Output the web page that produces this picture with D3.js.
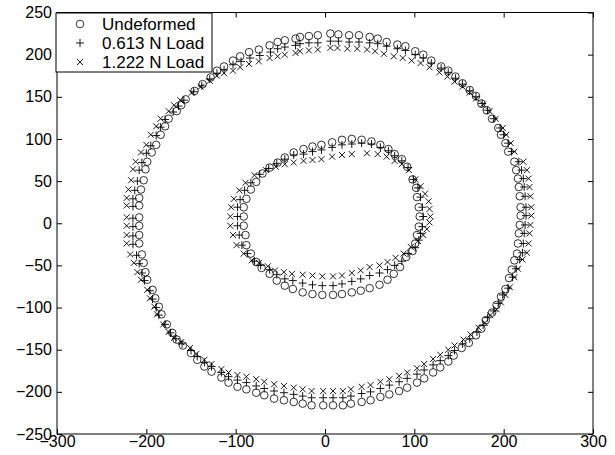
<!DOCTYPE html>
<html>
<head>
<meta charset="utf-8">
<script src="https://cdn.jsdelivr.net/npm/d3@7"></script>
<style>
  body { margin: 0; background: #fff; }
  .axis text { font-family: "Liberation Sans", Arial, Helvetica, sans-serif; font-size: 16px; fill: #000; }
  .axis line { stroke: #000; }
</style>
</head>
<body>
<div id="chart"></div>
<script>
// measured ring points, [x, y] in chart units
var undeformed = [
  [6,225],[-8,223],[-18,222],[-28,221],[-33,219],[-45,217],[-53,215],[-62,211],[-74,206],[-85,203],
  [-95,198],[-103,193],[-113,186],[-121,181],[-128,173],[-137,165],[-146,157],[-156,147],[-161,140],[-166,133],
  [-175,124],[-179,115],[-184,105],[-189,93],[-194,84],[-199,73],[-201,64],[-203,51],[-206,40],[-208,30],
  [-208,21],[-208,7],[-208,-3],[-208,-14],[-208,-24],[-205,-37],[-203,-47],[-201,-58],[-199,-67],[-193,-79],
  [-190,-89],[-186,-99],[-183,-108],[-177,-120],[-171,-130],[-166,-138],[-159,-145],[-150,-154],[-143,-162],[-135,-170],
  [-127,-176],[-116,-183],[-108,-189],[-98,-194],[-88,-197],[-77,-201],[-68,-204],[-57,-208],[-46,-210],[-35,-212],
  [-25,-214],[-15,-216],[-2,-216],[9,-216],[20,-216],[29,-214],[41,-212],[51,-210],[62,-206],[72,-203],
  [83,-199],[92,-195],[103,-189],[111,-184],[121,-177],[129,-171],[138,-164],[144,-157],[153,-148],[161,-142],
  [169,-133],[175,-125],[180,-115],[187,-106],[192,-97],[197,-87],[202,-78],[206,-65],[209,-55],[212,-44],
  [215,-36],[216,-24],[217,-12],[218,-2],[219,9],[219,19],[218,32],[217,43],[216,53],[214,63],
  [212,73],[205,85],[202,95],[197,105],[194,113],[187,124],[181,134],[175,142],[169,151],[162,158],
  [154,166],[146,174],[138,181],[130,186],[119,193],[110,200],[101,204],[90,210],[81,212],[69,215],
  [59,219],[50,221],[38,223],[27,223],[15,224],
  // inner ring
  [30,100],[19,99],[8,96],[-4,93],[-14,91],[-24,88],[-35,84],[-45,78],[-53,72],[-62,66],
  [-70,59],[-77,49],[-83,40],[-88,29],[-91,19],[-91,8],[-91,-3],[-89,-14],[-88,-26],[-83,-36],
  [-77,-46],[-71,-53],[-62,-60],[-54,-68],[-45,-74],[-36,-78],[-25,-82],[-14,-84],[-3,-85],[9,-85],
  [19,-84],[30,-82],[40,-80],[50,-77],[61,-73],[70,-67],[77,-60],[84,-52],[91,-40],[98,-33],
  [101,-24],[103,-14],[105,-4],[106,8],[105,19],[103,31],[102,42],[98,52],[92,67],[86,76],
  [78,82],[71,88],[62,93],[52,97],[41,99]
];

var load0613 = [
  [6,216],[-8,214],[-18,214],[-28,213],[-33,211],[-45,209],[-53,207],[-61,203],[-73,199],[-84,196],
  [-94,192],[-103,188],[-113,182],[-121,178],[-129,171],[-138,163],[-147,156],[-158,146],[-164,139],[-170,132],
  [-179,123],[-184,114],[-189,104],[-195,92],[-200,83],[-205,72],[-208,63],[-210,50],[-213,39],[-215,29],
  [-215,20],[-215,6],[-215,-4],[-215,-15],[-215,-25],[-211,-38],[-208,-48],[-205,-59],[-202,-68],[-196,-80],
  [-193,-90],[-189,-100],[-186,-109],[-179,-120],[-173,-130],[-167,-137],[-160,-143],[-150,-151],[-143,-158],[-135,-165],
  [-127,-170],[-116,-177],[-108,-182],[-98,-186],[-88,-189],[-77,-193],[-68,-196],[-57,-199],[-46,-201],[-35,-203],
  [-25,-205],[-15,-207],[-2,-207],[9,-207],[20,-207],[29,-205],[41,-202],[51,-200],[62,-196],[72,-192],
  [83,-188],[92,-184],[103,-179],[111,-174],[121,-168],[129,-163],[138,-157],[145,-151],[154,-143],[162,-137],
  [170,-129],[177,-121],[182,-112],[189,-104],[194,-95],[199,-85],[205,-77],[210,-64],[214,-54],[218,-43],
  [221,-35],[222,-24],[223,-12],[224,-2],[225,9],[225,19],[224,32],[223,43],[222,53],[220,63],
  [217,73],[209,85],[205,95],[200,105],[196,113],[189,124],[182,134],[176,142],[169,150],[162,157],
  [154,165],[146,172],[138,179],[130,184],[119,190],[110,196],[101,200],[90,205],[81,207],[69,210],
  [59,213],[50,214],[38,215],[27,215],[15,216],
  [30,94],[19,93],[8,90],[-4,87],[-14,85],[-24,82],[-35,81],[-45,76],[-54,71],[-63,65],
  [-73,58],[-83,48],[-90,39],[-95,28],[-98,19],[-98,8],[-98,-3],[-96,-14],[-93,-26],[-87,-36],
  [-79,-45],[-72,-50],[-62,-55],[-54,-61],[-45,-66],[-36,-68],[-25,-71],[-14,-73],[-3,-74],[9,-74],
  [19,-72],[30,-69],[40,-66],[50,-62],[61,-59],[70,-55],[78,-50],[86,-45],[93,-36],[101,-29],
  [105,-20],[107,-12],[109,-4],[110,8],[109,19],[107,31],[104,42],[99,52],[93,66],[86,74],
  [78,80],[71,86],[62,90],[52,94],[41,95]
];

var load1222 = [
  [6,208],[-8,206],[-18,205],[-28,204],[-33,202],[-45,200],[-53,198],[-62,196],[-74,192],[-85,189],
  [-95,185],[-103,181],[-113,178],[-121,175],[-129,169],[-139,162],[-149,155],[-162,146],[-169,140],[-175,133],
  [-184,124],[-189,115],[-195,105],[-200,93],[-206,84],[-212,73],[-215,64],[-217,51],[-220,40],[-222,30],
  [-222,21],[-222,7],[-222,-3],[-222,-14],[-222,-24],[-218,-37],[-214,-47],[-210,-58],[-206,-67],[-199,-79],
  [-196,-89],[-191,-99],[-188,-108],[-181,-120],[-175,-129],[-169,-136],[-161,-141],[-151,-148],[-144,-155],[-135,-162],
  [-127,-167],[-116,-173],[-108,-177],[-98,-180],[-88,-182],[-77,-185],[-68,-188],[-57,-191],[-46,-193],[-35,-195],
  [-25,-197],[-15,-199],[-2,-199],[9,-199],[20,-199],[29,-197],[41,-194],[51,-192],[62,-188],[72,-185],
  [83,-181],[92,-177],[103,-172],[111,-167],[121,-161],[129,-156],[138,-150],[145,-145],[155,-138],[163,-132],
  [172,-124],[179,-118],[185,-109],[192,-102],[197,-94],[202,-85],[207,-76],[212,-64],[216,-54],[221,-43],
  [226,-35],[228,-24],[229,-12],[230,-2],[231,9],[231,19],[230,32],[229,43],[228,53],[226,63],
  [222,73],[212,85],[208,95],[203,105],[199,113],[191,124],[184,133],[177,141],[169,148],[162,155],
  [154,162],[145,168],[137,174],[128,179],[117,185],[107,190],[97,193],[87,196],[77,198],[66,201],
  [56,204],[47,206],[36,207],[25,207],[14,208],
  [30,82],[19,81],[8,79],[-4,76],[-14,75],[-24,74],[-35,72],[-45,70],[-55,67],[-66,63],
  [-79,57],[-89,48],[-96,39],[-102,29],[-105,19],[-106,8],[-106,-3],[-103,-14],[-99,-26],[-91,-36],
  [-82,-44],[-74,-47],[-64,-51],[-56,-56],[-46,-58],[-37,-60],[-25,-61],[-14,-62],[-3,-63],[9,-63],
  [19,-62],[30,-59],[40,-56],[50,-52],[61,-50],[70,-46],[79,-41],[88,-36],[96,-28],[104,-21],
  [110,-14],[114,-7],[117,1],[118,8],[117,17],[116,26],[112,35],[107,44],[101,52],[94,63],
  [86,70],[78,74],[69,79],[59,82],[47,83]
];

var seriesNames = ["Undeformed", "0.613 N Load", "1.222 N Load"];
var xTicks = [-300, -200, -100, 0, 100, 200, 300];
var yTicks = [-250, -200, -150, -100, -50, 0, 50, 100, 150, 200, 250];

var width = 615, height = 455;
var margin = { top: 12.5, right: 22, bottom: 21, left: 57 };
var w = width - margin.left - margin.right;
var h = height - margin.top - margin.bottom;

var svg = d3.select("#chart").append("svg")
    .attr("width", width)
    .attr("height", height);

var g = svg.append("g")
    .attr("transform", "translate(" + margin.left + "," + margin.top + ")");

var x = d3.scaleLinear().domain([-300, 300]).range([0, w]);
var y = d3.scaleLinear().domain([-250, 250]).range([h, 0]);

var fmt = function(d) { return d < 0 ? "\u2212" + Math.abs(d) : String(d); };

// MATLAB style inward ticks on all four sides
g.append("g").attr("class", "axis x")
    .attr("transform", "translate(0," + h + ")")
    .call(d3.axisBottom(x).tickValues(xTicks).tickSize(-5).tickPadding(2).tickFormat(fmt));
g.append("g").attr("class", "axis x2")
    .call(d3.axisTop(x).tickValues(xTicks).tickSize(-5).tickFormat(""));
g.append("g").attr("class", "axis y")
    .call(d3.axisLeft(y).tickValues(yTicks).tickSize(-5).tickPadding(5).tickFormat(fmt));
g.append("g").attr("class", "axis y2")
    .attr("transform", "translate(" + w + ",0)")
    .call(d3.axisRight(y).tickValues(yTicks).tickSize(-5).tickFormat(""));

g.selectAll(".axis .domain").remove();
g.selectAll(".axis text").attr("font-family", null).attr("font-size", null);

g.append("rect")
    .attr("width", w).attr("height", h)
    .attr("fill", "none").attr("stroke", "#000").attr("stroke-width", 1);

// marker shapes
function drawCircle(sel, r) {
  sel.append("circle").attr("r", r).attr("fill", "none").attr("stroke", "#000").attr("stroke-width", 0.8);
}
function drawPlus(sel, s) {
  sel.append("path").attr("d", "M" + (-s) + ",0H" + s + "M0," + (-s) + "V" + s)
    .attr("fill", "none").attr("stroke", "#000").attr("stroke-width", 0.9);
}
function drawCross(sel, s) {
  sel.append("path").attr("d", "M" + (-s) + "," + (-s) + "L" + s + "," + s + "M" + (-s) + "," + s + "L" + s + "," + (-s))
    .attr("fill", "none").attr("stroke", "#000").attr("stroke-width", 0.9);
}

var markers = [
  function(sel) { drawCircle(sel, 3.8); },
  function(sel) { drawPlus(sel, 4); },
  function(sel) { drawCross(sel, 3); }
];

[undeformed, load0613, load1222].forEach(function(data, i) {
  var pts = g.append("g").attr("class", "series s" + i)
    .selectAll("g.pt")
    .data(data)
    .enter().append("g")
    .attr("class", "pt")
    .attr("transform", function(d) { return "translate(" + x(d[0]) + "," + y(d[1]) + ")"; });
  markers[i](pts);
});

// legend
var legend = g.append("g").attr("class", "legend").attr("transform", "translate(-1,0.5)");
legend.append("rect")
    .attr("width", 156).attr("height", 59)
    .attr("fill", "#fff").attr("stroke", "#000").attr("stroke-width", 1);

seriesNames.forEach(function(name, i) {
  var row = legend.append("g").attr("transform", "translate(0," + (11 + i * 19) + ")");
  var m = row.append("g").attr("transform", "translate(24,0)");
  markers[i](m);
  row.append("text")
    .attr("x", 46).attr("y", 0).attr("dy", "0.36em")
    .attr("font-family", "Liberation Sans, Arial, Helvetica, sans-serif")
    .attr("font-size", "17px")
    .text(name);
});
</script>
</body>
</html>
